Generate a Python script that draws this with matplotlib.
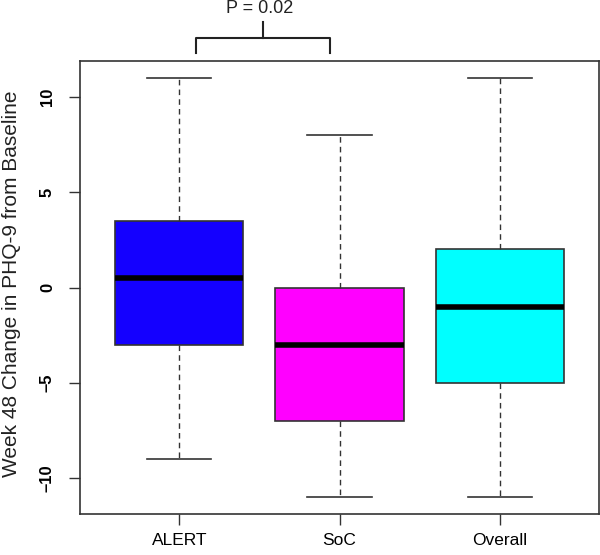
import matplotlib
matplotlib.use("Agg")
import matplotlib.pyplot as plt

plt.rcParams['font.family'] = ['Liberation Sans', 'DejaVu Sans']

groups = ['ALERT', 'SoC', 'Overall']
whislo = [-9, -11, -11]
q1 = [-3, -7, -5]
med = [0.5, -3, -1]
q3 = [3.5, 0, 2]
whishi = [11, 8, 11]
box_colors = ['#1400ff', '#ff00ff', '#00ffff']
yticks = [-10, -5, 0, 5, 10]
p_label = 'P = 0.02'

stats = []
for i, g in enumerate(groups):
    stats.append(dict(label=g, whislo=whislo[i], q1=q1[i], med=med[i],
                      q3=q3[i], whishi=whishi[i], fliers=[]))

fig = plt.figure(figsize=(6.0, 5.55), dpi=100)
ax = fig.add_axes([80/600, 1-514/555, 519/600, 453/555])

edge = '#333333'
bp = ax.bxp(stats, positions=[1, 2, 3], widths=0.8, patch_artist=True,
            showfliers=False,
            boxprops=dict(edgecolor=edge, linewidth=1.2),
            medianprops=dict(color='black', linewidth=4, solid_capstyle='butt'),
            whiskerprops=dict(color=edge, linewidth=1.0, linestyle=(0, (4, 3))),
            capprops=dict(color=edge, linewidth=1.2),
            capwidths=0.4)
for patch, c in zip(bp['boxes'], box_colors):
    patch.set_facecolor(c)

ax.set_xlim(0.38, 3.62)
ax.set_ylim(-11.88, 11.88)
ax.set_yticks(yticks)
ax.set_yticklabels([str(t).replace('-', '\u2013') for t in yticks],
                   rotation=90, va='center', fontsize=12, fontweight='bold')
ax.set_xticks([1, 2, 3])
ax.set_xticklabels(groups, fontsize=12.5)
ax.tick_params(axis='both', length=8, width=1.0, color=edge)
ax.tick_params(axis='x', pad=6)
ax.tick_params(axis='y', pad=10)
for s in ax.spines.values():
    s.set_color(edge)
    s.set_linewidth(1.2)

fig.text(12/600, 1-284/555, 'Week 48 Change in PHQ-9 from Baseline',
         rotation=90, ha='center', va='center', fontsize=15, color='#222222')

# significance bracket above the plot
bx = [1.103, 1.103, 1.94, 1.94]
by = [12.3, 13.08, 13.08, 12.3]
ax.plot(bx, by, color='#222222', lw=1.5, clip_on=False)
ax.plot([1.52, 1.52], [13.08, 13.95], color='#222222', lw=1.5, clip_on=False)
ax.text(1.5, 14.65, p_label, ha='center', va='center', fontsize=13,
        color='#222222', clip_on=False)

fig.savefig('out.png', dpi=100)
